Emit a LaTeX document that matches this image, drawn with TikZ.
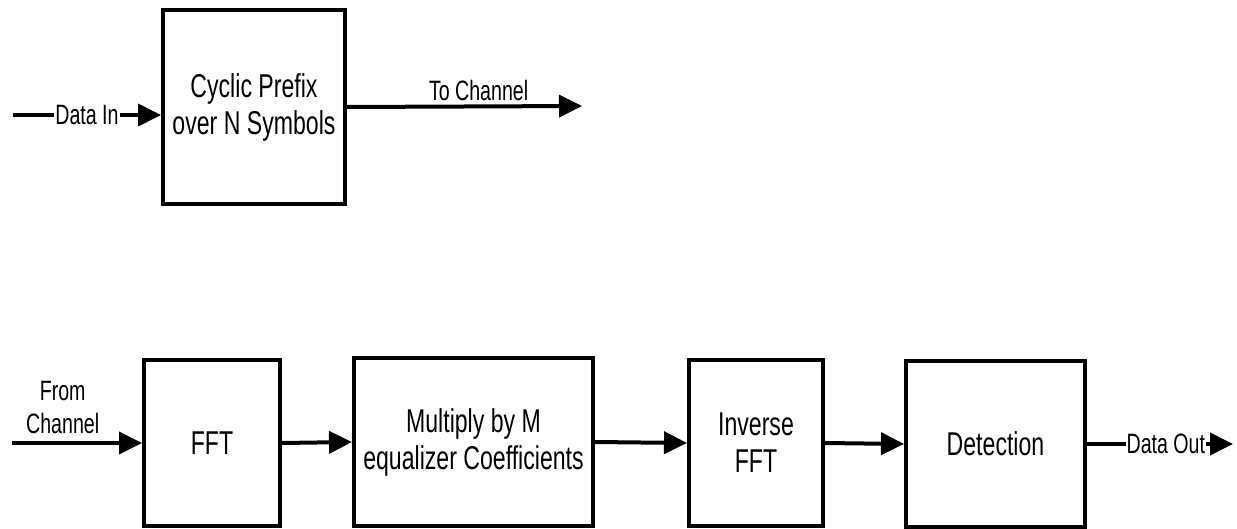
\documentclass[tikz,border=0pt]{standalone}
\usepackage{fontspec}
\setmainfont{Liberation Sans}[FakeStretch=0.7]
\usepackage{tikz}
\usetikzlibrary{arrows.meta,positioning,calc}
\newcommand{\boxfont}{\fontsize{33}{37}\selectfont}
\newcommand{\lblfont}{\fontsize{28}{33}\selectfont}

\begin{document}
\begin{tikzpicture}[x=1pt,y=-1pt,font=\boxfont,
  blk/.style={draw,line width=4pt,align=center,inner sep=0pt},
  arr/.style={line width=4pt,-{Triangle[length=23pt,width=22pt]}},
  lbl/.style={font=\lblfont,inner sep=1pt}]
\useasboundingbox (0,0) rectangle (1237,529);
% transmitter
\node[blk,minimum width=182,minimum height=194] (cp) at (254,107) {Cyclic Prefix\\over N Symbols};
\coordinate (din) at (13,115);
\coordinate (tochan) at (582,106);
\draw[arr] (din) -- node[lbl,pos=0.5,fill=white] {Data In} (din -| cp.west);
\draw[arr] (cp.east) -- node[lbl,pos=0.56,above=3pt] {To Channel} (tochan);
% receiver
\node[blk,minimum width=136,minimum height=166] (fft) at (212,443) {FFT};
\node[blk,minimum width=239,minimum height=168] (mult) at (473.5,442) {Multiply by M\\equalizer Coefficients};
\node[blk,minimum width=134,minimum height=166] (ifft) at (756,443) {Inverse\\FFT};
\node[blk,minimum width=179,minimum height=166] (det) at (995.5,444) {Detection};
\coordinate (fromch) at (12,443);
\coordinate (dout) at (1233,444);
\draw[arr] (fromch) -- node[lbl,pos=0.39,above=6pt,align=center] {From\\Channel} (fft.west);
\draw[arr] (fft.east) -- (mult.west);
\draw[arr] (mult.east) -- (ifft.west);
\draw[arr] (ifft.east) -- (det.west);
\draw[arr] (det.east) -- node[lbl,pos=0.54,fill=white] {Data Out} (dout);
\end{tikzpicture}
\end{document}
